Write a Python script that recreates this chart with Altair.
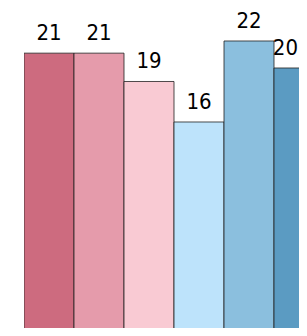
import altair as alt
import pandas as pd

categories = ["A", "B", "C", "D", "E", "F"]
values = [21.1, 21.1, 19, 16, 22, 20]
colors = ["#CD6B7F", "#E59BAB", "#F9CAD3", "#BDE3FB", "#8BBFDE", "#5B9BC2"]

df = pd.DataFrame({"cat": categories, "value": values})

x = alt.X("cat:N", sort=categories, axis=None,
          scale=alt.Scale(range=[0, 300], paddingInner=0, paddingOuter=0))
y = alt.Y("value:Q", axis=None,
          scale=alt.Scale(domain=[0.74, 24], nice=False, zero=False))

bars = alt.Chart(df).mark_bar(
    stroke="#222222", strokeWidth=1, strokeOpacity=0.8, clip=True
).encode(
    x=x, y=y, y2=alt.datum(0),
    color=alt.Color("cat:N", sort=categories,
                    scale=alt.Scale(domain=categories, range=colors), legend=None),
)

text_style = dict(baseline="bottom", dy=-8, font="DejaVu Sans Condensed",
                  fontSize=22, color="#000000")

labels = alt.Chart(df).mark_text(**text_style).encode(
    x=x, y=y, text=alt.Text("value:Q", format=".0f")
).transform_filter(alt.datum.cat != categories[-1])

last_label = alt.Chart(df).mark_text(align="right", dx=-1, **text_style).encode(
    x=x, y=y, text=alt.Text("value:Q", format=".0f")
).transform_filter(alt.datum.cat == categories[-1])

chart = (bars + labels + last_label).properties(
    width=275, height=314,
    padding={"left": 16, "top": 6, "right": 0, "bottom": 0},
    autosize=alt.AutoSizeParams(type="none"),
).configure_view(stroke=None)

chart.save("out.html", embed_options={"renderer": "svg", "actions": False})
